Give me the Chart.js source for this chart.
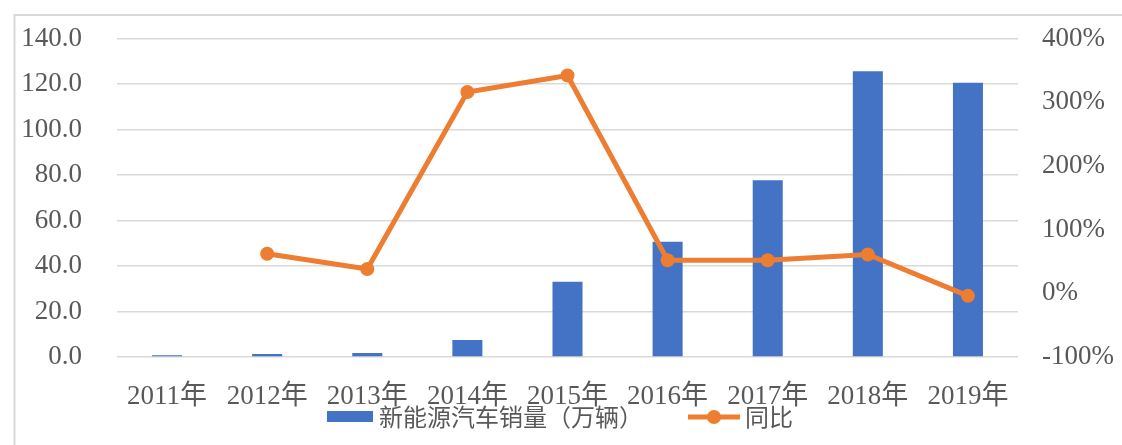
<!DOCTYPE html>
<html>
<head>
<meta charset="utf-8">
<script src="https://cdn.jsdelivr.net/npm/chart.js@4.4.1/dist/chart.umd.min.js"></script>
<style>
  html, body { margin: 0; padding: 0; background: #fff; }
  canvas { display: block; }
</style>
</head>
<body>
<canvas id="salesChart" width="1122" height="445"></canvas>
<script>
// data
var years = ['2011年', '2012年', '2013年', '2014年', '2015年', '2016年', '2017年', '2018年', '2019年']
var sales = [0.8, 1.3, 1.8, 7.5, 33.1, 50.7, 77.7, 125.6, 120.6]      // 万辆
var growth = [null, 62, 38, 316, 342, 52, 52, 61, -4]                // %
var salesTicks = [0, 20, 40, 60, 80, 100, 120, 140]
var growthTicks = [-100, 0, 100, 200, 300, 400]

var salesLabel = '新能源汽车销量（万辆）'
var growthLabel = '同比'

var BLUE = '#4472C4'
var ORANGE = '#ED7D31'
var GRID = '#D9D9D9'
var TEXT = '#595959'
var serif = '"Liberation Serif", "Noto Sans CJK SC", serif'
var cjk = '"Noto Sans CJK SC", sans-serif'

// frame around the chart (only top and left edges are inside the picture)
var framePlugin = {
    id: 'frame',
    beforeDraw: function(chart) {
        var ctx = chart.ctx
        ctx.save()
        ctx.fillStyle = '#fff'
        ctx.fillRect(0, 0, chart.width, chart.height)
        ctx.strokeStyle = GRID
        ctx.lineWidth = 2
        ctx.beginPath()
        ctx.moveTo(14.5, chart.height)
        ctx.lineTo(14.5, 15)
        ctx.lineTo(chart.width, 15)
        ctx.stroke()
        ctx.restore()
    }
}

// legend drawn by hand: bar swatch + line-with-marker swatch
var legendPlugin = {
    id: 'customLegend',
    afterDraw: function(chart) {
        var ctx = chart.ctx
        var y = 417
        ctx.save()
        ctx.font = '24px ' + cjk
        ctx.textBaseline = 'middle'
        ctx.fillStyle = BLUE
        ctx.fillRect(327, y - 6, 46, 11)
        ctx.fillStyle = TEXT
        ctx.fillText(salesLabel, 379, y)

        ctx.strokeStyle = ORANGE
        ctx.lineWidth = 5
        ctx.beginPath()
        ctx.moveTo(688, y)
        ctx.lineTo(740, y)
        ctx.stroke()
        ctx.fillStyle = ORANGE
        ctx.beginPath()
        ctx.arc(714, y, 7, 0, Math.PI * 2)
        ctx.fill()
        ctx.fillStyle = TEXT
        ctx.fillText(growthLabel, 745, y)
        ctx.restore()
    }
}

// vertical axes: fixed width, and no tick padding pushed into the plot top/bottom
function fitSide(w) {
    return function(s) {
        s.width = w
        s.paddingTop = 0
        s.paddingBottom = 0
    }
}

var ctx = document.getElementById('salesChart').getContext('2d')
window.myChart = new Chart(ctx, {
    data: {
        labels: years,
        datasets: [{
            type: 'line',
            label: growthLabel,
            data: growth,
            yAxisID: 'y1',
            borderColor: ORANGE,
            backgroundColor: ORANGE,
            borderWidth: 5,
            pointRadius: 7,
            pointBorderWidth: 0,
            pointBackgroundColor: ORANGE,
            tension: 0,
            fill: false,
            order: 0
        }, {
            type: 'bar',
            label: salesLabel,
            data: sales,
            yAxisID: 'y',
            backgroundColor: BLUE,
            borderWidth: 0,
            categoryPercentage: 1,
            barPercentage: 0.3,
            order: 1
        }]
    },
    options: {
        responsive: false,
        animation: false,
        layout: { padding: { top: 38.5, bottom: 7.6, left: 0, right: 0 } },
        plugins: {
            legend: { display: false },
            tooltip: { enabled: false },
            title: { display: false }
        },
        scales: {
            x: {
                grid: { display: false, drawTicks: false },
                border: { display: false },
                ticks: {
                    color: TEXT,
                    font: { family: serif, size: 27 },
                    padding: 24,
                    maxRotation: 0,
                    autoSkip: false
                }
            },
            y: {
                position: 'left',
                min: salesTicks[0],
                max: salesTicks[salesTicks.length - 1],
                afterBuildTicks: function(s) { s.ticks = salesTicks.map(function(v) { return { value: v } }) },
                afterFit: fitSide(117),
                grid: { color: GRID, lineWidth: 1.6, drawTicks: false },
                border: { display: false },
                ticks: {
                    color: TEXT,
                    font: { family: serif, size: 27 },
                    padding: 35,
                    callback: function(v) { return v.toFixed(1) }
                }
            },
            y1: {
                position: 'right',
                min: growthTicks[0],
                max: growthTicks[growthTicks.length - 1],
                afterBuildTicks: function(s) { s.ticks = growthTicks.map(function(v) { return { value: v } }) },
                afterFit: fitSide(104),
                grid: { display: false, drawTicks: false },
                border: { display: false },
                ticks: {
                    color: TEXT,
                    font: { family: serif, size: 27 },
                    padding: 24,
                    callback: function(v) { return v + '%' }
                }
            }
        }
    },
    plugins: [framePlugin, legendPlugin]
})
</script>
</body>
</html>
